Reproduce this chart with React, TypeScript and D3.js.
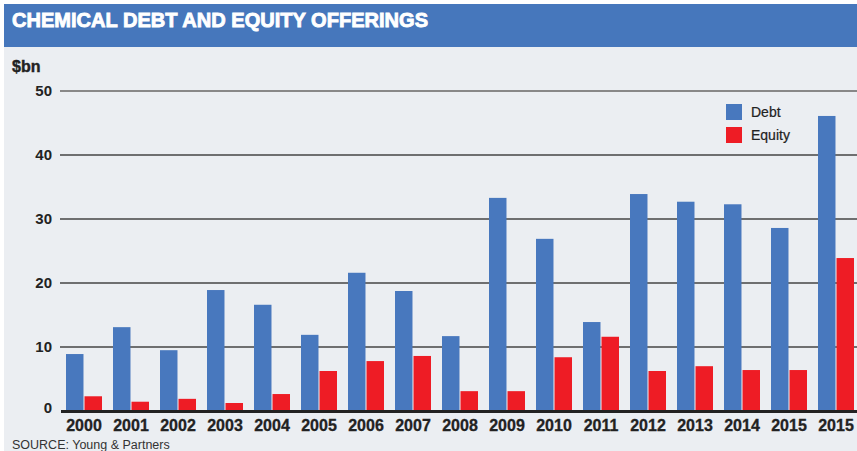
import React from "react";
import * as d3 from "d3";

const years = ["2000","2001","2002","2003","2004","2005","2006","2007","2008","2009","2010","2011","2012","2013","2014","2015","2015 "];
const debt = [8.9,13.1,9.5,18.9,16.6,11.9,21.6,18.75,11.7,33.3,26.9,13.9,33.9,32.7,32.3,28.6,46.1];
const equity = [2.3,1.45,1.9,1.25,2.65,6.25,7.8,8.6,3.1,3.1,8.4,11.6,6.25,7.0,6.4,6.4,23.9];
const yTicks = [0,10,20,30,40,50];
const seriesNames = ["Debt","Equity"];

const W = 857, H = 451;
const BLUE = "#4878BE", RED = "#EE1C25", BG = "#EBEEF2";

export default function App() {
  const y = d3.scaleLinear().domain([0, 50]).range([411, 91]);
  const x = d3.scaleBand().domain(years).range([66 - 15, 66 - 15 + 47 * 17]).paddingInner(0).paddingOuter(0);
  const sub = d3.scaleBand().domain(seriesNames).range([15, 15 + 36]).paddingInner(2 / 36);
  const colors = [BLUE, RED];
  const data = [debt, equity];
  const font = "'Liberation Sans', Arial, sans-serif";
  return (
    <svg width={W} height={H} style={{ position: "absolute", left: 0, top: 0, display: "block" }}>
      <rect x={0} y={0} width={W} height={H} fill="#fff" />
      <rect x={4} y={4} width={W - 4} height={H - 4} fill={BG} />
      <rect x={4} y={4} width={W - 4} height={43} fill="#4677BC" />
      <text x={12} y={27} fill="#fff" fontFamily={font} fontWeight={900} fontSize={21} textLength={416} lengthAdjust="spacingAndGlyphs" stroke="#fff" strokeWidth={0.9}>
        CHEMICAL DEBT AND EQUITY OFFERINGS
      </text>
      <text x={12} y={72} fill="#222" fontFamily={font} fontWeight={900} fontSize={16} stroke="#222" strokeWidth={0.4}>$bn</text>
      {yTicks.map((t) => (
        <g key={t}>
          {t > 0 && (
            <line x1={60} x2={W} y1={y(t)} y2={y(t)} stroke={t === 50 ? "#888" : "#444"} strokeWidth={t === 50 ? 2 : 1.3} />
          )}
          <text x={52} y={t === 0 ? y(t) - 3 : y(t)} dy="0.36em" textAnchor="end" fill="#222" fontFamily={font} fontWeight={700} fontSize={15}>{t}</text>
        </g>
      ))}
      {years.map((yr, i) => (
        <g key={yr} transform={`translate(${x(yr)},0)`}>
          {data.map((s, k) => (
            <rect key={k} x={sub(seriesNames[k])} width={sub.bandwidth()} y={y(s[i])} height={y(0) - y(s[i])} fill={colors[k]} />
          ))}
          <text x={15 + 18} y={431} textAnchor="middle" fill="#222" fontFamily={font} fontWeight={900} fontSize={16} stroke="#222" strokeWidth={0.3}>{yr.trim()}</text>
        </g>
      ))}
      <line x1={61} x2={W} y1={y(0) + 0.5} y2={y(0) + 0.5} stroke="#222" strokeWidth={3} />
      {seriesNames.map((n, k) => (
        <g key={n} transform={`translate(726,${104 + k * 23})`}>
          <rect width={16} height={16} fill={colors[k]} />
          <text x={25} y={8} dy="0.36em" fill="#222" fontFamily={font} fontSize={14} stroke="#222" strokeWidth={0.2}>{n}</text>
        </g>
      ))}
      <text x={12} y={449} fill="#333" fontFamily={font} fontSize={12.5}>SOURCE: Young &amp; Partners</text>
    </svg>
  );
}
